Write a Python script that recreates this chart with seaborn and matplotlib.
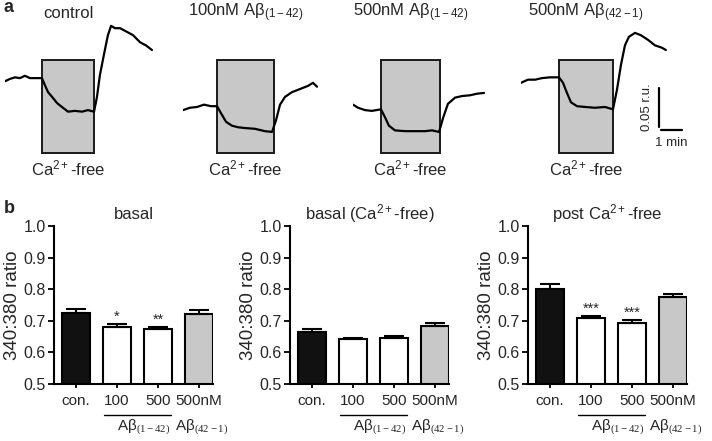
import numpy as np
import pandas as pd
import matplotlib
matplotlib.use("Agg")
import matplotlib.pyplot as plt
import matplotlib.transforms as mtransforms
import seaborn as sns

# ---------------- panel a: example traces (time in min, signal in r.u.) ----------------
ctrl_t = [0, 0.24, 0.48, 0.71, 0.95, 1.19, 1.48, 1.76, 1.90, 2.05, 2.24, 2.48, 2.71, 3.00,
          3.33, 3.67, 3.95, 4.24, 4.38, 4.52, 4.71, 4.90, 5.05, 5.24, 5.48, 5.76, 6.10,
          6.43, 6.71, 7.00]
ctrl_v = [0.092, 0.095, 0.097, 0.096, 0.099, 0.096, 0.096, 0.096, 0.087, 0.078, 0.072,
          0.064, 0.059, 0.053, 0.054, 0.053, 0.055, 0.053, 0.072, 0.100, 0.126, 0.151,
          0.163, 0.160, 0.160, 0.156, 0.151, 0.142, 0.138, 0.132]

ab100_t = [0, 0.33, 0.67, 1.00, 1.33, 1.62, 1.81, 2.05, 2.33, 2.62, 2.95, 3.43, 3.90,
           4.24, 4.43, 4.62, 4.86, 5.19, 5.57, 5.95, 6.19, 6.38]
ab100_v = [0.055, 0.058, 0.059, 0.062, 0.060, 0.060, 0.051, 0.040, 0.035, 0.033, 0.032,
           0.031, 0.028, 0.027, 0.042, 0.062, 0.072, 0.078, 0.082, 0.086, 0.090, 0.085]

ab500_t = [0, 0.24, 0.57, 0.90, 1.33, 1.52, 1.71, 2.00, 2.48, 2.95, 3.43, 3.76, 4.10,
           4.29, 4.52, 4.86, 5.19, 5.57, 5.90, 6.24]
ab500_v = [0.062, 0.058, 0.055, 0.054, 0.056, 0.046, 0.035, 0.029, 0.028, 0.028, 0.028,
           0.029, 0.027, 0.045, 0.063, 0.071, 0.073, 0.074, 0.076, 0.077]

rev_t = [0, 0.33, 0.67, 1.00, 1.38, 1.81, 2.00, 2.19, 2.38, 2.67, 3.05, 3.52, 4.00, 4.38,
         4.57, 4.76, 4.95, 5.14, 5.43, 5.71, 6.05, 6.38, 6.71, 6.90]
rev_v = [0.090, 0.094, 0.094, 0.096, 0.097, 0.097, 0.090, 0.077, 0.065, 0.060, 0.059,
         0.058, 0.059, 0.056, 0.081, 0.113, 0.138, 0.149, 0.154, 0.151, 0.145, 0.138,
         0.135, 0.132]

box_start = [1.76, 1.62, 1.33, 1.81]
box_end = [4.24, 4.33, 4.14, 4.38]
trace_titles = ["control",
                "100nM Aβ$_{\\mathsf{(1-42)}}$",
                "500nM Aβ$_{\\mathsf{(1-42)}}$",
                "500nM Aβ$_{\\mathsf{(42-1)}}$"]
box_label = "Ca$^{\\mathsf{2+}}$-free"
scale_min = 1.0
scale_ru = 0.05

# ---------------- panel b: bar charts ----------------
bar_labels = ["con.", "100", "500", "500nM"]
basal_mean = [0.725, 0.680, 0.675, 0.722]
basal_sem = [0.012, 0.009, 0.006, 0.012]
cafree_mean = [0.665, 0.642, 0.646, 0.682]
cafree_sem = [0.009, 0.004, 0.005, 0.011]
post_mean = [0.800, 0.708, 0.694, 0.774]
post_sem = [0.016, 0.008, 0.008, 0.011]
basal_stars = ["", "*", "**", ""]
cafree_stars = ["", "", "", ""]
post_stars = ["", "***", "***", ""]
panel_titles = ["basal", "basal (Ca$^{\\mathsf{2+}}$-free)", "post Ca$^{\\mathsf{2+}}$-free"]
group_a = "Aβ$_{\\mathrm{(1-42)}}$"
group_b = "Aβ$_{\\mathrm{(42-1)}}$"
bar_colors = ["#111111", "#ffffff", "#ffffff", "#c8c8c8"]
yticks = [0.5, 0.6, 0.7, 0.8, 0.9, 1.0]

# ---------------- style ----------------
sns.set_style("ticks")
plt.rcParams["font.family"] = ["Liberation Sans", "DejaVu Sans"]
plt.rcParams["mathtext.fontset"] = "custom"
plt.rcParams["mathtext.rm"] = "Liberation Serif"
plt.rcParams["mathtext.sf"] = "Liberation Sans"
plt.rcParams["mathtext.it"] = "Liberation Sans:italic"

W, H = 712, 441
fig = plt.figure(figsize=(W / 100, H / 100), dpi=100)


def fax(left, top, w, h):
    return fig.add_axes([left / W, 1 - (top + h) / H, w / W, h / H])


PX_MIN = 21.0
PX_RU = 780.0
trace_left = [5, 183, 353, 521]
traces = [(ctrl_t, ctrl_v), (ab100_t, ab100_v), (ab500_t, ab500_v), (rev_t, rev_v)]
for i, (tt, vv) in enumerate(traces):
    ax = fax(trace_left[i], 20, 8.5 * PX_MIN, 140)
    ax.set_xlim(0, 8.5)
    ax.set_ylim(-7 / PX_RU, 133 / PX_RU)
    ax.axis("off")
    ax.axvspan(box_start[i], box_end[i], ymin=0.05, ymax=0.714, facecolor="#c8c8c8",
               edgecolor="#1a1a1a", lw=1.4, zorder=0)
    sns.lineplot(x=tt, y=vv, ax=ax, color="black", lw=1.6, sort=False, estimator=None)
    trans = mtransforms.blended_transform_factory(ax.transData, ax.transAxes)
    bc = (box_start[i] + box_end[i]) / 2
    ax.text(bc, 1.05, trace_titles[i], ha="center", va="center", fontsize=12, transform=trans)
    ax.text(bc, -0.057, box_label, ha="center", va="center", fontsize=12, transform=trans)
    if i == 3:
        x0 = 6.57
        y0 = (153 - 127) / PX_RU
        ax.plot([x0, x0], [y0, y0 + scale_ru], color="black", lw=1.6)
        ax.plot([x0 + 0.1, x0 + 0.1 + scale_min], [y0 - 0.004, y0 - 0.004], color="black", lw=1.6)
        ax.text(x0 - 0.55, y0 + scale_ru / 2, "0.05 r.u.", rotation=90, ha="center",
                va="center", fontsize=9.5)
        ax.text(x0 + 0.1 + scale_min / 2, y0 - 0.021, "1 min", ha="center", va="center",
                fontsize=9.5)

fig.text(4 / W, 1 - 8 / H, "a", fontsize=13, fontweight="bold", ha="left", va="center")
fig.text(4 / W, 1 - 209 / H, "b", fontsize=13, fontweight="bold", ha="left", va="center")

# bar panels
panel_left = [54, 290, 528]
datasets = [(basal_mean, basal_sem, basal_stars),
            (cafree_mean, cafree_sem, cafree_stars),
            (post_mean, post_sem, post_stars)]
for p, (means, sems, stars) in enumerate(datasets):
    ax = fax(panel_left[p], 226, 159, 158)
    df = pd.DataFrame({"group": bar_labels, "value": means})
    sns.barplot(data=df, x="group", y="value", hue="group", palette=bar_colors,
                edgecolor="black", linewidth=1.5, width=0.68, legend=False, ax=ax,
                saturation=1)
    xs = np.arange(len(means))
    ax.errorbar(xs, means, yerr=[np.zeros(len(sems)), sems], fmt="none", ecolor="black",
                elinewidth=1.5, capsize=7, capthick=1.5, zorder=5)
    for x, m, s, st in zip(xs, means, sems, stars):
        if st:
            ax.text(x, m + s + 0.001, st, ha="center", va="bottom", fontsize=10.5)
    ax.set_xlim(-22 / 41, 3 + 14 / 41)
    ax.set_ylim(0.5, 1.0)
    ax.set_yticks(yticks)
    ax.set_yticklabels([f"{v:.1f}" for v in yticks], fontsize=11.5)
    ax.set_xticks(xs)
    ax.set_xticklabels(bar_labels, fontsize=11)
    ax.set_xlabel("")
    ax.set_ylabel("340:380 ratio", fontsize=13.5)
    ax.yaxis.set_label_coords(-0.21, 0.5)
    ax.tick_params(axis="both", width=1.3, length=4, pad=2, color="black")
    ax.tick_params(axis="x", length=3, pad=4)
    sns.despine(ax=ax)
    for side in ("left", "bottom"):
        ax.spines[side].set_linewidth(1.5)
        ax.spines[side].set_color("black")
    ax.set_title(panel_titles[p], fontsize=12, pad=5)
    trans = mtransforms.blended_transform_factory(ax.transData, ax.transAxes)
    ax.plot([1 - 0.32, 2 + 0.32], [-0.195, -0.195], color="black", lw=1.0,
            transform=trans, clip_on=False)
    ax.text(1.65, -0.275, group_a, ha="center", va="center", fontsize=11, transform=trans)
    ax.text(3.07, -0.275, group_b, ha="center", va="center", fontsize=11, transform=trans)

fig.savefig("out.png", dpi=100)
